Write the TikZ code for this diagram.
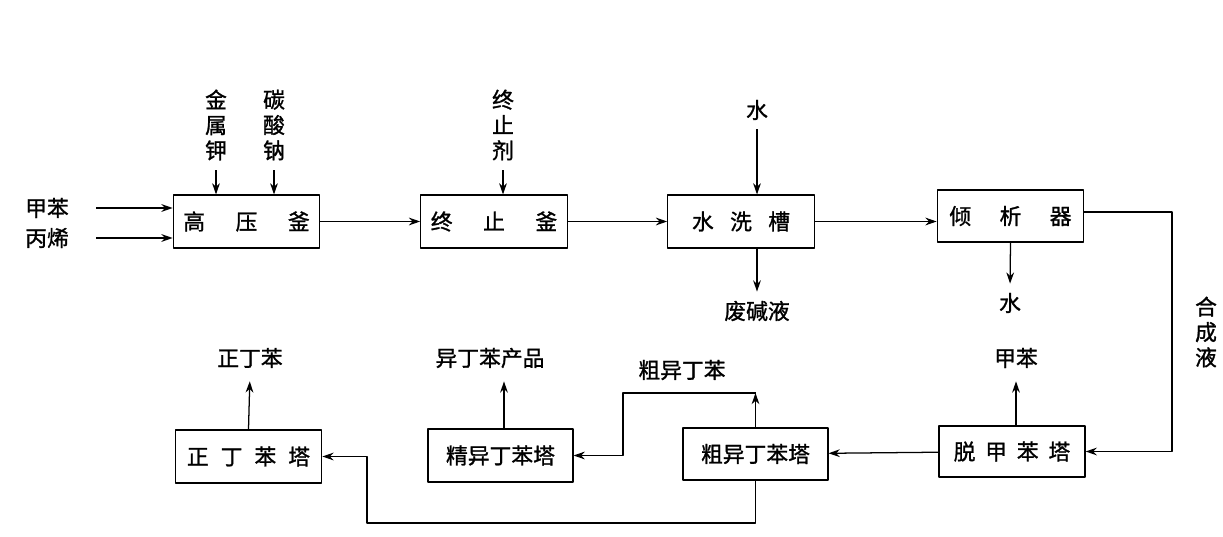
\documentclass[tikz,border=0pt]{standalone}
\usepackage{fontspec}
\usetikzlibrary{arrows.meta}
\newfontfamily\cjk{Noto Sans CJK SC}[FakeBold=1.2]
\begin{document}
\begin{tikzpicture}[x=0.025cm,y=-0.025cm,font=\cjk\fontsize{15.5}{18}\selectfont,line join=round,>={Stealth[length=8pt,width=5.5pt]},line width=0.9pt,
	unit/.style={draw,minimum width=3.66cm,minimum height=1.32cm,inner sep=0pt},
	vtext/.style={align=center,inner sep=1pt}]
	\useasboundingbox (0,0) rectangle (1223,537);
	% units
	\node[unit] (gyf) at (246.5,221.5) {高\hspace{1.4em}压\hspace{1.4em}釜};
	\node[unit] (zzf) at (494,221.5) {终\hspace{1.4em}止\hspace{1.4em}釜};
	\node[unit] (sxc) at (741,221.5) {水\hspace{0.75em}洗\hspace{0.75em}槽};
	\node[unit,minimum height=1.3cm] (qxq) at (1010.5,216) {倾\hspace{1.3em}析\hspace{1.3em}器};
	\node[unit] (zdbt) at (248.5,456.5) {正\hspace{0.55em}丁\hspace{0.55em}苯\hspace{0.55em}塔};
	\node[unit,minimum width=3.62cm] (jydbt) at (500.5,455.5) {精异丁苯塔};
	\node[unit,minimum width=3.62cm,minimum height=1.3cm] (cydbt) at (755.5,454) {粗异丁苯塔};
	\node[unit,minimum width=3.65cm,minimum height=1.28cm] (tjbt) at (1012,451.5) {脱\hspace{0.45em}甲\hspace{0.45em}苯\hspace{0.45em}塔};
	% feeds and products
	\node (jb) at (47,208) {甲苯};
	\node (bx) at (47,238) {丙烯};
	\node[vtext] (jsj) at (216,125) {金\\属\\钾};
	\node[vtext] (tsn) at (274,125) {碳\\酸\\钠};
	\node[vtext] (zzj) at (503,125) {终\\止\\剂};
	\node (shui) at (757,110) {水};
	\node (fjy) at (757,311) {废碱液};
	\node (shui2) at (1010,303) {水};
	\node[vtext] (hcy) at (1206,332) {合\\成\\液};
	\node (jb2) at (1016,358) {甲苯};
	\node (cydb) at (682,370) {粗异丁苯};
	\node (ydbcp) at (490,358) {异丁苯产品};
	\node (zdb) at (250,358) {正丁苯};
	\coordinate (c1) at (623,393);
	\coordinate (c2) at (367,523);
	\coordinate (c3) at (1172,330);
	% streams
	\draw[->] (jb.east) ++(0.55cm,0) -- (jb -| gyf.west);
	\draw[->] (bx.east) ++(0.55cm,0) -- (bx -| gyf.west);
	\draw[->,shorten <=0.2cm] (jsj.south) -- (jsj.south |- gyf.north);
	\draw[->,shorten <=0.2cm] (tsn.south) -- (tsn.south |- gyf.north);
	\draw[->,shorten <=0.2cm] (zzj.south) -- (zzj.south |- zzf.north);
	\draw[->,shorten <=0.1cm] (shui.south) -- (shui.south |- sxc.north);
	\draw[->] (gyf) -- (zzf);
	\draw[->] (zzf) -- (sxc);
	\draw[->] (sxc.east) -- (sxc.east -| qxq.west);
	\draw[->,shorten >=0.1cm] (sxc.south -| fjy) -- (fjy.north);
	\draw[->,shorten >=0.1cm] (qxq.south) -- (shui2.north);
	\draw[->] ([yshift=0.1cm]qxq.east) -| (c3) |- (tjbt.east);
	\draw[->] (tjbt) -- (cydbt);
	\draw[->,shorten >=0.2cm] (tjbt.north -| jb2) -- (jb2.south);
	\draw[->] (cydbt.north) -- (cydbt.north |- c1);
	\draw[->] (cydbt.north |- c1) -- (c1) |- (jydbt.east);
	\draw[->] (cydbt.south) |- (c2) |- (zdbt.east);
	\draw[->,shorten >=0.2cm] (jydbt.north -| 504,0) -- (504,0 |- ydbcp.south);
	\draw[->,shorten >=0.2cm] (zdbt.north) -- (zdb.south);
\end{tikzpicture}
\end{document}
